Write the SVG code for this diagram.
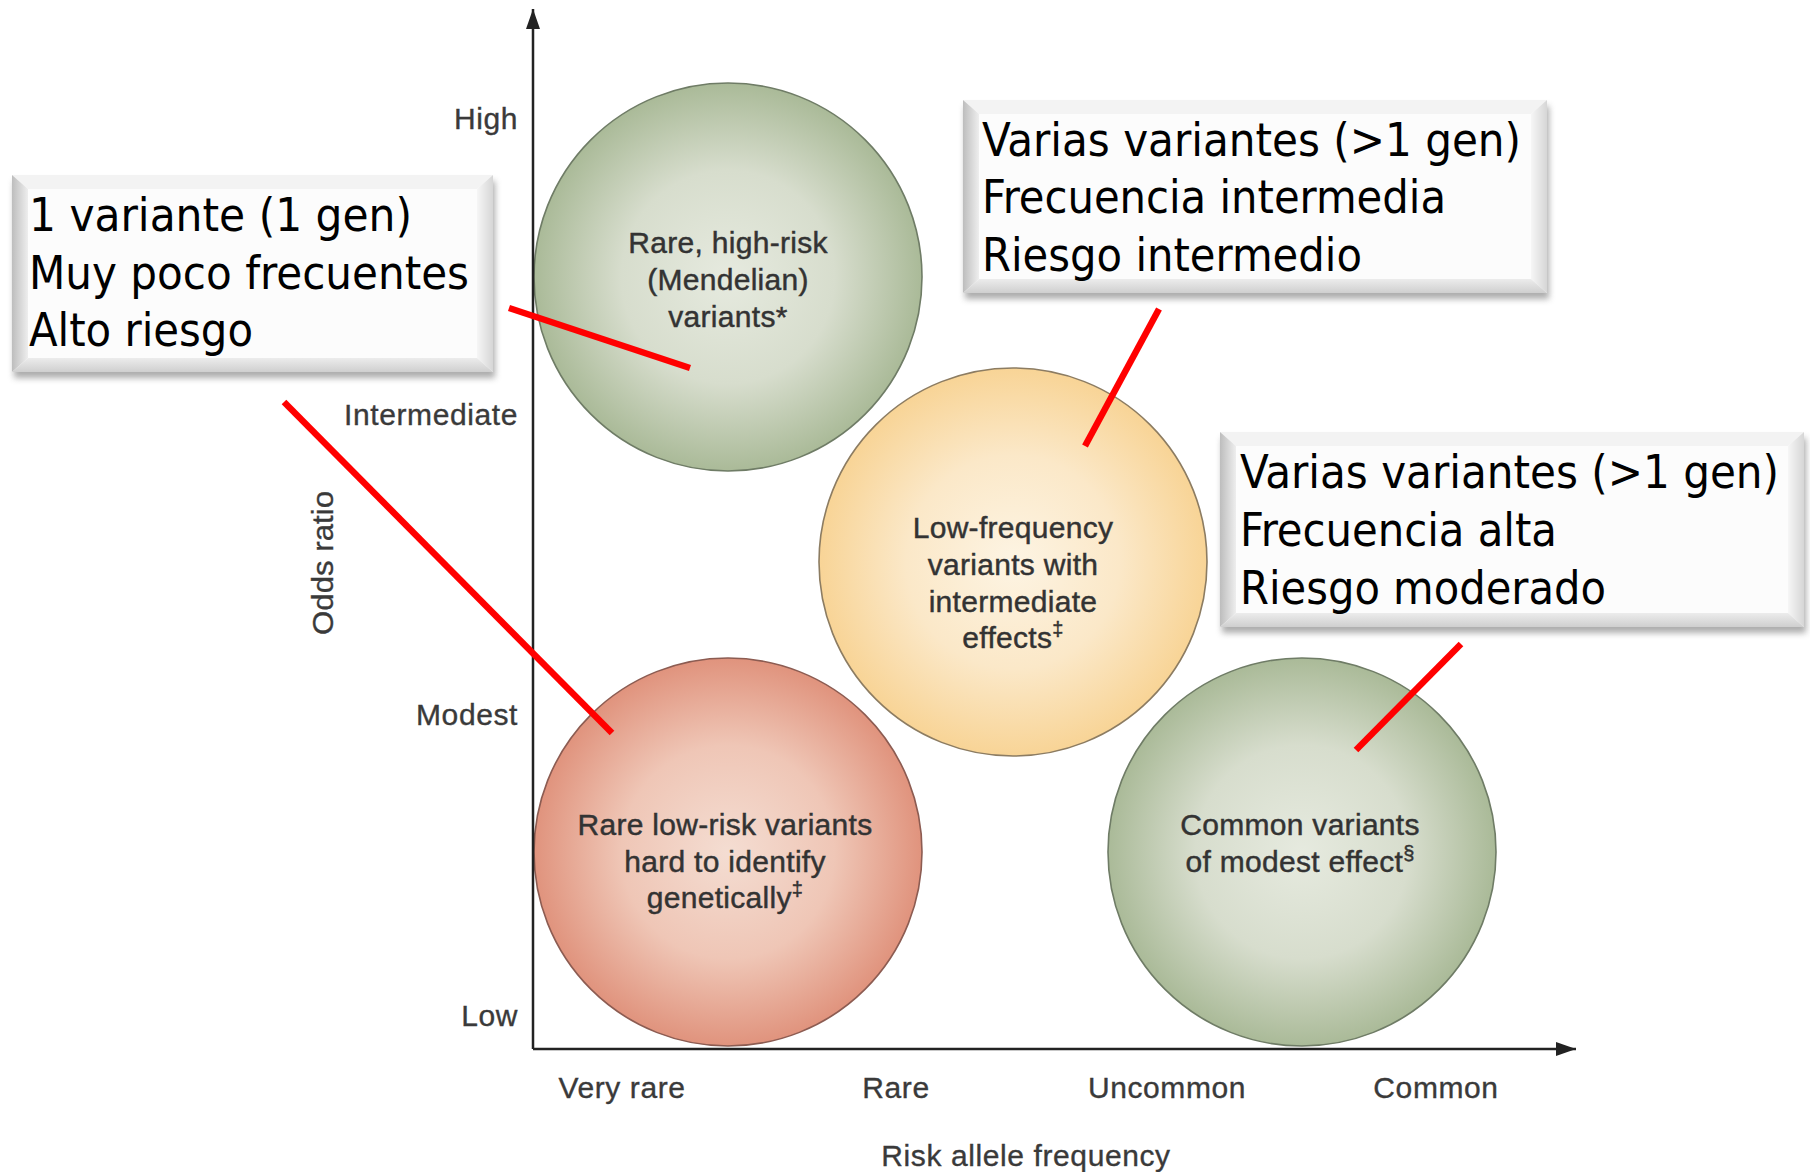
<svg xmlns="http://www.w3.org/2000/svg" width="1810" height="1172" viewBox="0 0 1810 1172">
  <defs>
    <radialGradient id="gGreen" cx="50%" cy="50%" r="50%">
      <stop offset="0" stop-color="#e6eadf"/>
      <stop offset="0.55" stop-color="#d7ddcd"/>
      <stop offset="1" stop-color="#aaba98"/>
    </radialGradient>
    <radialGradient id="gYellow" cx="50%" cy="50%" r="50%">
      <stop offset="0" stop-color="#fdf4e3"/>
      <stop offset="0.55" stop-color="#fbe8c8"/>
      <stop offset="1" stop-color="#f8d496"/>
    </radialGradient>
    <radialGradient id="gRed" cx="50%" cy="50%" r="50%">
      <stop offset="0" stop-color="#f4ddd2"/>
      <stop offset="0.55" stop-color="#efc6b6"/>
      <stop offset="1" stop-color="#e0937d"/>
    </radialGradient>
    <linearGradient id="bevL" x1="0" y1="0" x2="1" y2="0">
      <stop offset="0" stop-color="#bdbdbd"/>
      <stop offset="1" stop-color="#eeeeee"/>
    </linearGradient>
    <linearGradient id="bevR" x1="0" y1="0" x2="1" y2="0">
      <stop offset="0" stop-color="#f6f6f6"/>
      <stop offset="1" stop-color="#d6d6d6"/>
    </linearGradient>
    <linearGradient id="bevB" x1="0" y1="0" x2="0" y2="1">
      <stop offset="0" stop-color="#ececec"/>
      <stop offset="1" stop-color="#cfcfcf"/>
    </linearGradient>
    <filter id="shadow" x="-5%" y="-10%" width="110%" height="130%">
      <feGaussianBlur stdDeviation="3"/>
    </filter>
    <marker id="arrowHead" viewBox="0 0 20 14" refX="20" refY="7" markerWidth="22" markerHeight="14" markerUnits="userSpaceOnUse" orient="auto">
      <path d="M0,0 L20,7 L0,14 Z" fill="#222"/>
    </marker>
  </defs>
  <style>
    .bubble { stroke-width: 1.6; }
    .green { fill: url(#gGreen); stroke: #6f7c66; }
    .yellow { fill: url(#gYellow); stroke: #8c7c62; }
    .red { fill: url(#gRed); stroke: #8c5c52; }
    .btext { font-family: "Liberation Sans", Arial, sans-serif; font-size: 30px; letter-spacing: 0.3px; fill: #333; stroke: #333; stroke-width: 0.45; text-anchor: middle; }
    .sup { font-size: 20px; }
    .tick { font-family: "Liberation Sans", Arial, sans-serif; font-size: 30px; letter-spacing: 0.6px; fill: #3a3a3a; stroke: #3a3a3a; stroke-width: 0.35; }
    .tickY { text-anchor: end; }
    .tickX { text-anchor: middle; }
    .axis { stroke: #222; stroke-width: 2.5; fill: none; }
    .shadowRect { fill: #8a8a8a; opacity: 0.7; filter: url(#shadow); }
    .face { fill: #fcfcfc; }
    .bl { fill: url(#bevL); }
    .bt { fill: #f3f3f3; }
    .br { fill: url(#bevR); }
    .bb { fill: url(#bevB); }
    .ctext { font-family: "DejaVu Sans Condensed", "DejaVu Sans", sans-serif; font-size: 46px; fill: #000; }
    .link { stroke: #ff0000; stroke-width: 6.5; fill: none; }
  </style>

  <rect x="0" y="0" width="1810" height="1172" fill="#ffffff"/>

  <!-- bubbles -->
  <g id="node-rare-high-risk">
    <circle class="bubble green" cx="728" cy="277" r="194"/>
    <text class="btext" x="728" y="253">Rare, high-risk</text>
    <text class="btext" x="728" y="290">(Mendelian)</text>
    <text class="btext" x="728" y="327">variants*</text>
  </g>
  <g id="node-low-frequency">
    <circle class="bubble yellow" cx="1013" cy="562" r="194"/>
    <text class="btext" x="1013" y="538">Low-frequency</text>
    <text class="btext" x="1013" y="575">variants with</text>
    <text class="btext" x="1013" y="612">intermediate</text>
    <text class="btext" x="1013" y="648">effects<tspan class="sup" dy="-12">‡</tspan></text>
  </g>
  <g id="node-rare-low-risk">
    <circle class="bubble red" cx="728" cy="852" r="194"/>
    <text class="btext" x="725" y="835">Rare low-risk variants</text>
    <text class="btext" x="725" y="872">hard to identify</text>
    <text class="btext" x="725" y="908">genetically<tspan class="sup" dy="-12">‡</tspan></text>
  </g>
  <g id="node-common">
    <circle class="bubble green" cx="1302" cy="852" r="194"/>
    <text class="btext" x="1300" y="835">Common variants</text>
    <text class="btext" x="1300" y="872">of modest effect<tspan class="sup" dy="-12">§</tspan></text>
  </g>

  <!-- axes -->
  <g id="axes">
    <line class="axis" x1="533" y1="1049" x2="533" y2="9" marker-end="url(#arrowHead)"/>
    <line class="axis" x1="533" y1="1049" x2="1576" y2="1049" marker-end="url(#arrowHead)"/>
    <text class="tick tickY" x="518" y="129">High</text>
    <text class="tick tickY" x="518" y="425">Intermediate</text>
    <text class="tick tickY" x="518" y="725">Modest</text>
    <text class="tick tickY" x="518" y="1026">Low</text>
    <text class="tick" font-size="32" textLength="144" lengthAdjust="spacingAndGlyphs" transform="translate(333 635) rotate(-90)" style="letter-spacing:0">Odds ratio</text>
    <text class="tick tickX" x="622" y="1098">Very rare</text>
    <text class="tick tickX" x="896" y="1098">Rare</text>
    <text class="tick tickX" x="1167" y="1098">Uncommon</text>
    <text class="tick tickX" x="1436" y="1098">Common</text>
    <text class="tick tickX" x="1026" y="1166">Risk allele frequency</text>
  </g>

  <!-- callout boxes -->
  <g id="callout-one-variant">
    <rect class="shadowRect" x="14" y="181" width="481" height="197"/>
    <rect class="face" x="12" y="175" width="481" height="197"/>
    <polygon class="bt" points="12,175 493,175 477,189 28,189"/>
    <polygon class="bl" points="12,175 28,189 28,358 12,372"/>
    <polygon class="br" points="493,175 493,372 477,358 477,189"/>
    <polygon class="bb" points="12,372 28,358 477,358 493,372"/>
    <text class="ctext" x="29" y="231" textLength="383" lengthAdjust="spacingAndGlyphs">1 variante (1 gen)</text>
    <text class="ctext" x="29" y="289" textLength="440" lengthAdjust="spacingAndGlyphs">Muy poco frecuentes</text>
    <text class="ctext" x="29" y="346" textLength="224" lengthAdjust="spacingAndGlyphs">Alto riesgo</text>
  </g>
  <g id="callout-intermediate">
    <rect class="shadowRect" x="965" y="106" width="584" height="193"/>
    <rect class="face" x="963" y="100" width="584" height="193"/>
    <polygon class="bt" points="963,100 1547,100 1531,114 979,114"/>
    <polygon class="bl" points="963,100 979,114 979,279 963,293"/>
    <polygon class="br" points="1547,100 1547,293 1531,279 1531,114"/>
    <polygon class="bb" points="963,293 979,279 1531,279 1547,293"/>
    <text class="ctext" x="982" y="156" textLength="539" lengthAdjust="spacingAndGlyphs">Varias variantes (&gt;1 gen)</text>
    <text class="ctext" x="982" y="213" textLength="464" lengthAdjust="spacingAndGlyphs">Frecuencia intermedia</text>
    <text class="ctext" x="982" y="271" textLength="380" lengthAdjust="spacingAndGlyphs">Riesgo intermedio</text>
  </g>
  <g id="callout-common">
    <rect class="shadowRect" x="1222" y="438" width="584" height="195"/>
    <rect class="face" x="1220" y="432" width="584" height="195"/>
    <polygon class="bt" points="1220,432 1804,432 1788,446 1236,446"/>
    <polygon class="bl" points="1220,432 1236,446 1236,613 1220,627"/>
    <polygon class="br" points="1804,432 1804,627 1788,613 1788,446"/>
    <polygon class="bb" points="1220,627 1236,613 1788,613 1804,627"/>
    <text class="ctext" x="1240" y="488" textLength="539" lengthAdjust="spacingAndGlyphs">Varias variantes (&gt;1 gen)</text>
    <text class="ctext" x="1240" y="546" textLength="317" lengthAdjust="spacingAndGlyphs">Frecuencia alta</text>
    <text class="ctext" x="1240" y="604" textLength="366" lengthAdjust="spacingAndGlyphs">Riesgo moderado</text>
  </g>

  <!-- connectors from callouts to bubbles -->
  <g id="connectors">
    <line class="link" x1="509" y1="308" x2="690" y2="368"/>
    <line class="link" x1="284" y1="402" x2="612" y2="733"/>
    <line class="link" x1="1159" y1="309" x2="1085" y2="446"/>
    <line class="link" x1="1461" y1="644" x2="1356" y2="750"/>
  </g>
</svg>
